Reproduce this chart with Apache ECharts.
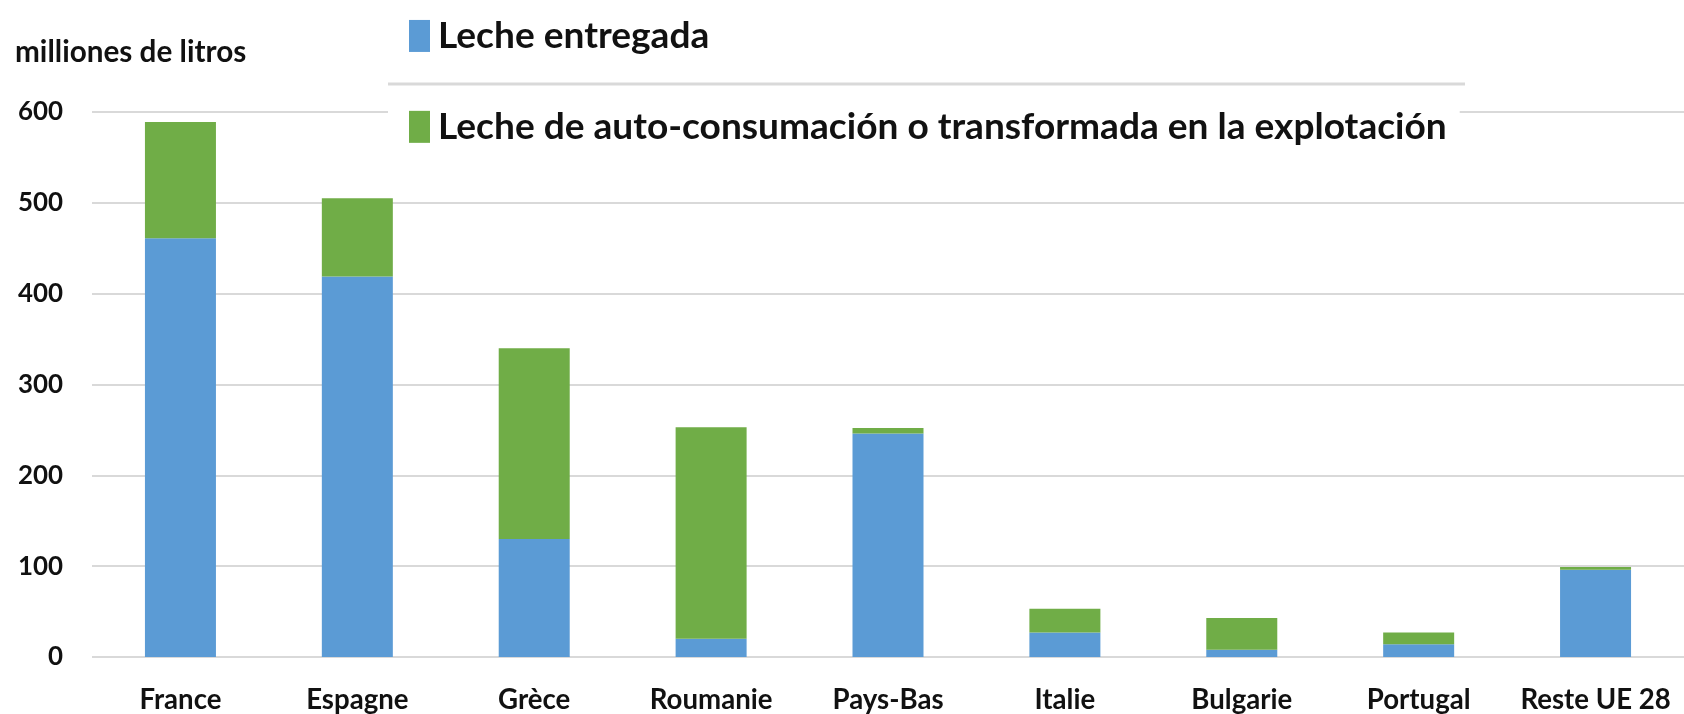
<!DOCTYPE html>
<html>
<head>
<meta charset="utf-8">
<script src="https://cdn.jsdelivr.net/npm/echarts@6/dist/echarts.min.js"></script>
<style>
html,body{margin:0;padding:0;background:#fff;}
#chart{width:1684px;height:714px;}
</style>
</head>
<body>
<div id="chart"></div>
<script>
const categories = ['France', 'Espagne', 'Grèce', 'Roumanie', 'Pays-Bas', 'Italie', 'Bulgarie', 'Portugal', 'Reste UE 28'];
const delivered = [461, 419, 130, 20, 246, 27, 8, 14, 96];
const onFarm = [128, 86, 210, 233, 6, 26, 35, 13, 3];
const seriesNames = ['Leche entregada', 'Leche de auto-consumación o transformada en la explotación'];
const yAxisTitle = 'milliones de litros';
const yMax = 600;
const yStep = 100;

const FAMILY = 'Lato, "Noto Sans", sans-serif';
function fit(text, target) {
  const ctx = document.createElement('canvas').getContext('2d');
  ctx.font = 'bold 100px ' + FAMILY;
  const w = ctx.measureText(text).width;
  return Math.round(1000 * target / w) / 10;
}
const catSize = fit('France', 82);
const ySize = fit('600', 45);
const titleSize = fit(yAxisTitle, 231);
const legendSize = fit(seriesNames[1], 1009);
const legendItemH = Math.max(32, legendSize);

const chart = echarts.init(document.getElementById('chart'), null, {renderer: 'canvas'});
chart.setOption({
  backgroundColor: '#ffffff',
  animation: false,
  title: {
    text: yAxisTitle,
    left: 15,
    top: 55 - titleSize * 0.6,
    padding: 0,
    textStyle: {fontFamily: FAMILY, fontWeight: 'bold', fontSize: titleSize, color: '#111'}
  },
  legend: {
    orient: 'vertical',
    left: 388,
    top: 0,
    padding: [36 - legendItemH / 2, 13, 12, 21],
    itemWidth: 21,
    itemHeight: 32,
    itemGap: 91 - legendItemH,
    backgroundColor: '#ffffff',
    icon: 'rect',
    data: seriesNames,
    textStyle: {fontFamily: FAMILY, fontWeight: 'bold', fontSize: legendSize, lineHeight: 32, color: '#111', padding: [0, 0, 0, 3]}
  },
  graphic: [{
    type: 'line',
    z: 100,
    shape: {x1: 388, y1: 84, x2: 1465, y2: 84},
    style: {stroke: '#d9d9d9', lineWidth: 3}
  }],
  grid: {left: 92, top: 112, width: 1597, height: 547, containLabel: false},
  xAxis: {
    type: 'category',
    data: categories,
    axisLine: {show: false},
    axisTick: {show: false},
    axisLabel: {fontFamily: FAMILY, fontWeight: 'bold', fontSize: catSize, color: '#111', margin: 29, interval: 0}
  },
  yAxis: {
    type: 'value',
    min: 0,
    max: yMax,
    interval: yStep,
    axisLine: {show: false},
    axisTick: {show: false},
    splitLine: {lineStyle: {color: '#d9d9d9', width: 2}},
    axisLabel: {fontFamily: FAMILY, fontWeight: 'bold', fontSize: ySize, color: '#111', margin: 29}
  },
  series: [
    {name: seriesNames[0], type: 'bar', stack: 'total', data: delivered, barWidth: 71, itemStyle: {color: '#5b9bd5'}},
    {name: seriesNames[1], type: 'bar', stack: 'total', data: onFarm, barWidth: 71, itemStyle: {color: '#70ad47'}}
  ]
});
</script>
</body>
</html>
